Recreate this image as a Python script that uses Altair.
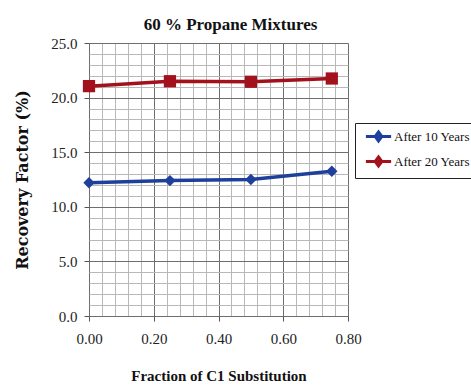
import altair as alt
import pandas as pd

fraction = [0.00, 0.25, 0.50, 0.75]
after_10 = [12.2, 12.4, 12.5, 13.25]
after_20 = [21.05, 21.5, 21.45, 21.75]
series_names = ["After 10 Years", "After 20 Years"]
series_colors = ["#1f3f9c", "#a3121c"]
series_shapes = ["diamond", "square"]
series_sizes = [130, 150]

x_major = [0.0, 0.2, 0.4, 0.6, 0.8]
y_major = [0.0, 5.0, 10.0, 15.0, 20.0, 25.0]
x_grid = [round(i * 0.04, 2) for i in range(21)]
y_grid = [float(i) for i in range(26)]

rows = []
for f, a, b in zip(fraction, after_10, after_20):
    rows.append({"f": f, "rf": a, "s": series_names[0]})
    rows.append({"f": f, "rf": b, "s": series_names[1]})
df = pd.DataFrame(rows)

serif = "Liberation Serif"
legend_path = "M-2.1,0L2.1,0M0,-0.75L0.55,0L0,0.75L-0.55,0Z"

x_enc = alt.X("f:Q", title="Fraction of C1 Substitution",
              scale=alt.Scale(domain=[0, 0.8], nice=False, zero=False),
              axis=alt.Axis(values=x_grid, format=".2f", labelFlush=False,
                            labelExpr="round(datum.value*100) % 20 === 0 ? format(datum.value, '.2f') : ''",
                            gridColor={"condition": {"test": "round(datum.value*100) % 20 === 0", "value": "#6e6e6e"}, "value": "#b8b8b8"},
                            tickOpacity={"condition": {"test": "round(datum.value*100) % 20 === 0", "value": 1}, "value": 0},
                            gridWidth=1, domain=False, tickColor="#555", tickSize=5,
                            labelFont=serif, labelFontSize=15, labelColor="#222", labelPadding=10,
                            titleFont=serif, titleFontSize=15, titleFontWeight="bold", titleColor="#111",
                            titlePadding=22))
y_enc = alt.Y("rf:Q", title="Recovery Factor (%)",
              scale=alt.Scale(domain=[0, 25], nice=False, zero=False),
              axis=alt.Axis(values=y_grid, labelFlush=False,
                            labelExpr="datum.value % 5 === 0 ? format(datum.value, '.1f') : ''",
                            gridColor={"condition": {"test": "datum.value % 5 === 0", "value": "#6e6e6e"}, "value": "#b8b8b8"},
                            tickOpacity={"condition": {"test": "datum.value % 5 === 0", "value": 1}, "value": 0},
                            gridWidth=1, domain=False, tickColor="#555", tickSize=5,
                            labelFont=serif, labelFontSize=15, labelColor="#222", labelPadding=7,
                            titleFont="DejaVu Serif", titleFontSize=16, titleFontWeight="bold", titleColor="#111",
                            titlePadding=20))

color = alt.Color("s:N", scale=alt.Scale(domain=series_names, range=series_colors),
                  legend=alt.Legend(title=None, orient="none", legendX=266, legendY=80,
                                    symbolType=legend_path,
                                    symbolSize=144, symbolStrokeWidth=3,
                                    labelFont=serif, labelFontSize=13, labelColor="#111",
                                    strokeColor="#222", padding=6, rowPadding=4,
                                    fillColor="white", labelOffset=8, symbolOffset=10))

line = alt.Chart(df).mark_line(strokeWidth=3.5).encode(x=x_enc, y=y_enc, color=color)

point_layers = []
for name, col, shp, sz in zip(series_names, series_colors, series_shapes, series_sizes):
    point_layers.append(
        alt.Chart(df).transform_filter(alt.datum.s == name)
        .mark_point(filled=True, opacity=1, size=sz, shape=shp, color=col, strokeWidth=0)
        .encode(x=x_enc, y=y_enc))

chart = alt.layer(line, *point_layers).properties(
    width=259, height=273,
    title=alt.TitleParams("60 % Propane Mixtures", font=serif, fontSize=17, fontWeight="bold",
                          color="#111", anchor="middle", offset=2, dx=12),
    autosize=alt.AutoSizeParams(type="none"),
    padding={"left": 89, "top": 43, "right": 123, "bottom": 71},
).configure_view(stroke="#444", strokeWidth=1).configure(background="white")

chart.save("out.html", embed_options={"renderer": "svg", "actions": False})
